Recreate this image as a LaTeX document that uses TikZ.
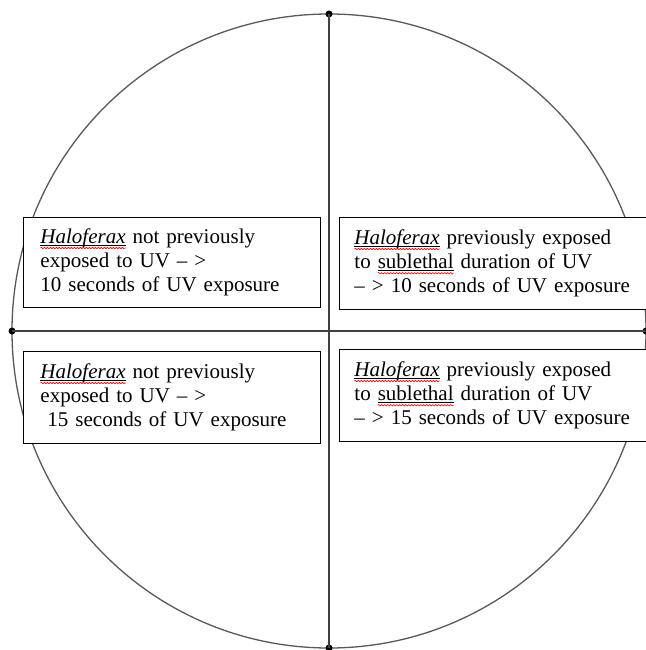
\documentclass[tikz,border=0pt]{standalone}
\usepackage{fontspec}
\setmainfont{Liberation Serif}
\usetikzlibrary{decorations.pathmorphing}
\newlength\spellw
\newcommand\spell[1]{\settowidth\spellw{#1}\rlap{#1}\tikz[baseline=0pt]{%
  \useasboundingbox (0pt,0pt) rectangle (\spellw,-5pt);
  \draw[black, line width=0.5pt] (0pt,-2pt) -- (\spellw,-2pt);
  \draw[red, line width=0.6pt, decorate, decoration={snake, amplitude=0.7pt, segment length=3pt}] (0pt,-4.6pt) -- (\spellw,-4.6pt);}}
\tikzset{
  axisline/.style={draw=black!75, line width=1.4pt},
  rim/.style={draw=black!65, line width=1.3pt},
  enddot/.style={circle, fill=black, inner sep=0pt, minimum size=7pt},
  labelbox/.style={draw=black, line width=0.9pt, fill=white, anchor=north west,
    align=left, inner ysep=0pt,
    font=\fontsize{21}{24.2}\selectfont},
}
\begin{document}
\begin{tikzpicture}[x=1pt,y=-1pt]
\useasboundingbox (0,0) rectangle (645,650);
\fill[white] (0,0) rectangle (645,650);
\coordinate (c) at (329,331);
\draw[rim] (c) circle[radius=317pt];
\node[enddot] (top) at (329,14) {};
\node[enddot] (bot) at (329,648) {};
\node[enddot] (lft) at (12,331) {};
\node[enddot] (rgt) at (646,331) {};
\draw[axisline] (top.center) -- (bot.center);
\draw[axisline] (lft.center) -- (rgt.center);
\node[labelbox, inner xsep=17pt, text width=263pt, minimum height=90pt] (tl) at (23,217)
  {\spell{\textit{Haloferax}} not previously\\exposed to UV – >\\10 seconds of UV exposure};
\node[labelbox, inner xsep=15pt, text width=320pt, minimum height=92pt] (tr) at (339,217)
  {\spell{\textit{Haloferax}} previously exposed\\to \spell{sublethal} duration of UV\\– > 10 seconds of UV exposure};
\node[labelbox, inner xsep=17pt, text width=263pt, minimum height=92pt] (bl) at (23,351)
  {\spell{\textit{Haloferax}} not previously\\exposed to UV – >\\\ 15 seconds of UV exposure};
\node[labelbox, inner xsep=15pt, text width=320pt, minimum height=92pt] (br) at (339,349)
  {\spell{\textit{Haloferax}} previously exposed\\to \spell{sublethal} duration of UV\\– > 15 seconds of UV exposure};
\end{tikzpicture}
\end{document}
